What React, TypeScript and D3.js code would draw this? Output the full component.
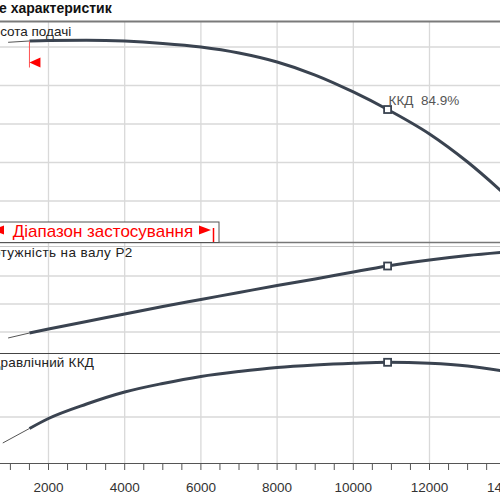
import React from 'react';
import * as d3 from 'd3';

// ---- data ----
const FLOW_TICKS = [2000, 4000, 6000, 8000, 10000, 12000, 14000];
const FLOW_MINOR = d3.range(1000, 14001, 500);

const RANGE_MIN = 1500;
const BEP_FLOW = 10900;
const BEP_EFF_LABEL = 'ККД  84.9%';

const HEAD_Q = [940, 1500, 2000, 3000, 4000, 5000, 6000, 7000, 8000, 9000, 10000, 10900, 12000, 13000, 14000];
const HEAD = [50.61, 50.78, 50.84, 50.87, 50.77, 50.47, 50.0, 49.22, 48.05, 46.36, 44.16, 41.88, 38.7, 35.06, 30.78];
const HEAD_TICKS = [30, 35, 40, 45, 50];

const POWER_Q = [940, 1500, 2000, 3000, 4000, 5000, 6000, 7000, 8000, 9000, 10000, 10900, 12000, 13000, 14000];
const POWER = [17.86, 19.64, 21.07, 23.75, 26.43, 29.11, 31.61, 34.11, 36.61, 38.93, 41.43, 43.57, 45.71, 47.32, 48.57];
const POWER_TICKS = [20, 30, 40];

const EFF_Q = [800, 1500, 2000, 3000, 4000, 5000, 6000, 7000, 8000, 9000, 10000, 10900, 12000, 13000, 14000];
const EFF = [48.17, 54.77, 59.32, 65.92, 71.38, 75.25, 78.44, 80.71, 82.53, 83.67, 84.45, 84.9, 84.45, 83.22, 80.71];
const EFF_TICKS = [60];

const TITLE = 'е характеристик';
const HEAD_LABEL = 'Висота подачі';
const POWER_LABEL = 'Потужність на валу P2';
const EFF_LABEL = 'Гідравлічний ККД';
const RANGE_LABEL = 'Діапазон застосування';

const FONT = '"Liberation Sans", Arial, sans-serif';
const CURVE = '#3a4350';
const GRID = '#d9d9d9';

type P = [number, number];

export default function App() {
  const x = d3.scaleLinear().domain([2000, 14000]).range([48.5, 505.7]);
  const yHead = d3.scaleLinear().domain([30, 50]).range([201, 47]);
  const yPow = d3.scaleLinear().domain([20, 40]).range([332, 276]);
  const yEff = d3.scaleLinear().domain([60, 84.9]).range([417, 362.3]);

  const mk = (qs: number[], vs: number[]): P[] => qs.map((q, i) => [q, vs[i]] as P);
  const headPts = mk(HEAD_Q, HEAD);
  const powPts = mk(POWER_Q, POWER);
  const effPts = mk(EFF_Q, EFF);

  const lineFor = (ys: d3.ScaleLinear<number, number>) =>
    d3.line<P>().x(d => x(d[0])).y(d => ys(d[1])).curve(d3.curveMonotoneX);

  const thin = (pts: P[]) => pts.filter(d => d[0] <= RANGE_MIN);
  const thick = (pts: P[]) => pts.filter(d => d[0] >= RANGE_MIN);

  const valAt = (qs: number[], vs: number[], q: number) => vs[qs.indexOf(q)];

  const series = [
    { pts: headPts, y: yHead, bep: valAt(HEAD_Q, HEAD, BEP_FLOW) },
    { pts: powPts, y: yPow, bep: valAt(POWER_Q, POWER, BEP_FLOW) },
    { pts: effPts, y: yEff, bep: valAt(EFF_Q, EFF, BEP_FLOW) },
  ];

  const top = 21.5, p1b = 242.5, p2t = 246.5, p3t = 353.5, axisY = 463.5;
  const xr = x(RANGE_MIN);
  const bx = x(BEP_FLOW);

  return (
    <svg width={500} height={500} style={{ position: 'fixed', left: 0, top: 0, background: '#fff' }} fontFamily={FONT}>
      <rect x={0} y={0} width={500} height={500} fill="#fff" />
      {/* title */}
      <text x={-1} y={12.5} fontSize={14} fontWeight="bold" fill="#111">{TITLE}</text>

      {/* vertical grid */}
      {FLOW_TICKS.map(t => (
        <line key={'vg' + t} x1={x(t)} x2={x(t)} y1={top} y2={axisY} stroke={GRID} strokeWidth={1.3} />
      ))}
      {/* horizontal grid */}
      {HEAD_TICKS.map(t => (
        <line key={'hh' + t} x1={0} x2={500} y1={yHead(t)} y2={yHead(t)} stroke={GRID} strokeWidth={1.3} />
      ))}
      {POWER_TICKS.map(t => (
        <line key={'hp' + t} x1={0} x2={500} y1={yPow(t)} y2={yPow(t)} stroke={GRID} strokeWidth={1.3} />
      ))}
      {EFF_TICKS.map(t => (
        <line key={'he' + t} x1={0} x2={500} y1={yEff(t)} y2={yEff(t)} stroke={GRID} strokeWidth={1.3} />
      ))}

      {/* panel borders */}
      <line x1={0} x2={500} y1={top} y2={top} stroke="#7a7a7a" strokeWidth={2} />
      <line x1={0} x2={500} y1={p2t} y2={p2t} stroke="#c8c8c8" strokeWidth={1.2} />
      <line x1={0} x2={500} y1={p3t} y2={p3t} stroke="#444" strokeWidth={1} />
      <line x1={0} x2={500} y1={axisY} y2={axisY} stroke="#555" strokeWidth={1} />

      {/* x ticks */}
      {FLOW_MINOR.map(t => (
        <line key={'tk' + t} x1={x(t)} x2={x(t)} y1={axisY} y2={axisY + 6.5} stroke="#555" strokeWidth={1} />
      ))}
      {FLOW_TICKS.map(t => (
        <text key={'tl' + t} x={x(t)} y={492} fontSize={13.5} textAnchor="middle" fill="#333">{t}</text>
      ))}

      {/* curves */}
      {series.map((s, i) => {
        const l = lineFor(s.y);
        return (
          <g key={'s' + i}>
            <path d={l(thin(s.pts)) || ''} fill="none" stroke="#555" strokeWidth={1} />
            <path d={l(thick(s.pts)) || ''} fill="none" stroke={CURVE} strokeWidth={3} strokeLinecap="butt" />
            <rect x={bx - 3.5} y={s.y(s.bep) - 3.5} width={7} height={7} fill="#fff" stroke={CURVE} strokeWidth={1.8} />
          </g>
        );
      })}

      {/* BEP label */}
      <text x={bx + 1} y={yHead(series[0].bep) - 5} fontSize={13.5} fill="#555" style={{ whiteSpace: 'pre' }}>{BEP_EFF_LABEL}</text>

      {/* panel labels */}
      <text x={-16.4} y={36} fontSize={13.5} fill="#222">{HEAD_LABEL}</text>
      <text x={-17.2} y={256.5} fontSize={13.5} letterSpacing={0.4} fill="#222">{POWER_LABEL}</text>
      <text x={-18.3} y={366.5} fontSize={13.5} letterSpacing={0.2} fill="#222">{EFF_LABEL}</text>

      {/* range start marker */}
      <line x1={xr} x2={xr} y1={41.5} y2={67.5} stroke="#ff5050" strokeWidth={1} />
      <path d={`M${xr},${62.5} L${xr + 11},${57.5} L${xr + 11},${67.5} Z`} fill="#ff0000" />

      {/* range box */}
      <line x1={0} x2={500} y1={p1b} y2={p1b} stroke="#777" strokeWidth={1.5} />
      <rect x={-5} y={222} width={224} height={20.5} fill="#fff" stroke="#555" strokeWidth={1} />
      <path d="M4,225.5 L-8,230 L4,234.5 Z" fill="#ff0000" />
      <text x={12.7} y={236.5} fontSize={17} fill="#ff0000">{RANGE_LABEL}</text>
      <path d="M199,225.5 L211,230 L199,234.5 Z" fill="#ff0000" />
      <line x1={213.5} x2={213.5} y1={228} y2={242} stroke="#ff0000" strokeWidth={1.5} />
    </svg>
  );
}
